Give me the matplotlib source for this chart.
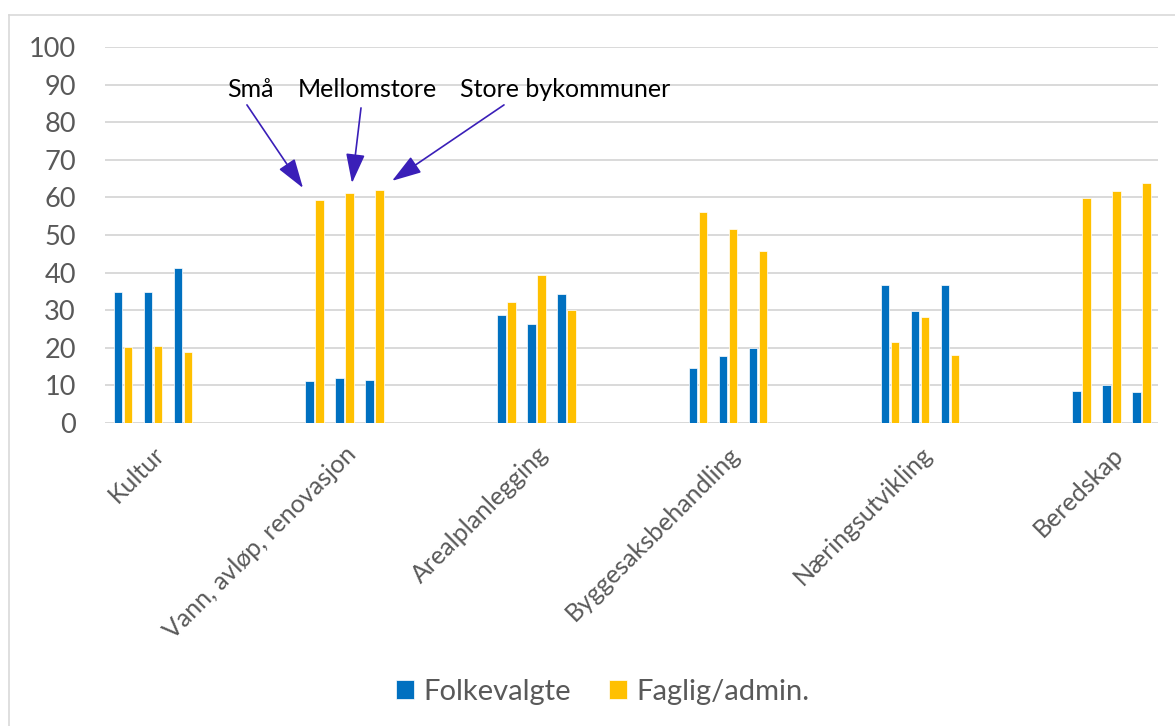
import numpy as np
import matplotlib.pyplot as plt
from matplotlib.lines import Line2D

plt.rcParams['font.family'] = ['Lato', 'DejaVu Sans']

categories = ["Kultur", "Vann, avløp, renovasjon", "Arealplanlegging",
              "Byggesaksbehandling", "Næringsutvikling", "Beredskap"]
groups = ["Små", "Mellomstore", "Store bykommuner"]

# per category: [Små, Mellomstore, Store]
folkevalgte = [
    [34.8, 34.9, 41.2],
    [11.1, 11.9, 11.4],
    [28.8, 26.2, 34.3],
    [14.5, 17.9, 19.9],
    [36.6, 29.7, 36.6],
    [8.5, 10.1, 8.3],
]
faglig = [
    [20.1, 20.4, 18.8],
    [59.4, 61.3, 62.0],
    [32.2, 39.3, 30.1],
    [56.0, 51.6, 45.8],
    [21.5, 28.1, 18.0],
    [59.8, 61.8, 63.8],
]
yticks = list(range(0, 101, 10))

BLUE = "#0070C0"
YELLOW = "#FFC000"
GRID = "#D9D9D9"
TXT = "#595959"
ARROW = "#3A1FB8"

fig = plt.figure(figsize=(11.75, 7.26), dpi=100)
ax = fig.add_axes([105 / 1175, 303 / 726, 1053 / 1175, 376 / 726])

step = 30 / 191.7
half = 5 / 191.7
bw = 8.5 / 191.7
x = np.arange(len(categories))
for g in range(len(groups)):
    off = (g - 1) * step
    fv = [row[g] for row in folkevalgte]
    fa = [row[g] for row in faglig]
    ax.bar(x + off - half, fv, width=bw, color=BLUE, edgecolor="white",
           linewidth=0.5, zorder=3, label="Folkevalgte" if g == 0 else None)
    ax.bar(x + off + half, fa, width=bw, color=YELLOW, edgecolor="white",
           linewidth=0.5, zorder=3, label="Faglig/admin." if g == 0 else None)

ax.set_xlim(-48 / 191.7, 5 + 46.5 / 191.7)
ax.set_ylim(0, 100)
ax.set_yticks(yticks)
ax.yaxis.grid(True, color=GRID, linewidth=1.4, zorder=0)
ax.set_axisbelow(True)
for s in ax.spines.values():
    s.set_visible(False)
ax.axhline(0, color=GRID, linewidth=1.4, zorder=1)
ax.tick_params(axis="y", length=0, pad=21, labelsize=19.5, labelcolor=TXT)
ax.set_xticks(x)
ax.set_xticklabels(categories, rotation=45, ha="right", va="top",
                   rotation_mode="anchor", fontsize=18, color=TXT)
ax.tick_params(axis="x", length=0, pad=14)

# annotation for the three municipality sizes (relative to 2nd category)
ann_text = [(-0.494, 88.6), (0.116, 88.6), (1.149, 88.6)]
ann_start = [(-0.51, 84.6), (0.085, 83.8), (0.831, 84.6)]
ann_tip = [(-0.2175, 62.5), (0.038, 63.8), (0.247, 64.4)]
for name, (tx, ty), (sx, sy), (ex, ey) in zip(groups, ann_text, ann_start, ann_tip):
    ax.text(1 + tx, ty, name, ha="center", va="center", fontsize=18,
            color="black", zorder=5)
    ax.annotate("", xy=(1 + ex, ey), xytext=(1 + sx, sy),
                arrowprops=dict(arrowstyle="-|>,head_length=1.3,head_width=0.42",
                                mutation_scale=14, color=ARROW, lw=1.2,
                                shrinkA=0, shrinkB=0), zorder=5)

fig.legend(loc="center", bbox_to_anchor=(603 / 1175, 1 - 692 / 726),
           ncol=2, frameon=False, fontsize=21, labelcolor=TXT,
           handlelength=0.62, handleheight=0.62, handletextpad=0.32,
           columnspacing=1.3)

# chart area frame (top and left edges)
fig.add_artist(Line2D([9 / 1175, 1], [1 - 15 / 726, 1 - 15 / 726],
                      transform=fig.transFigure, color=GRID, lw=1.2))
fig.add_artist(Line2D([9 / 1175, 9 / 1175], [0, 1 - 15 / 726],
                      transform=fig.transFigure, color=GRID, lw=1.2))

fig.savefig("out.png", dpi=100)
